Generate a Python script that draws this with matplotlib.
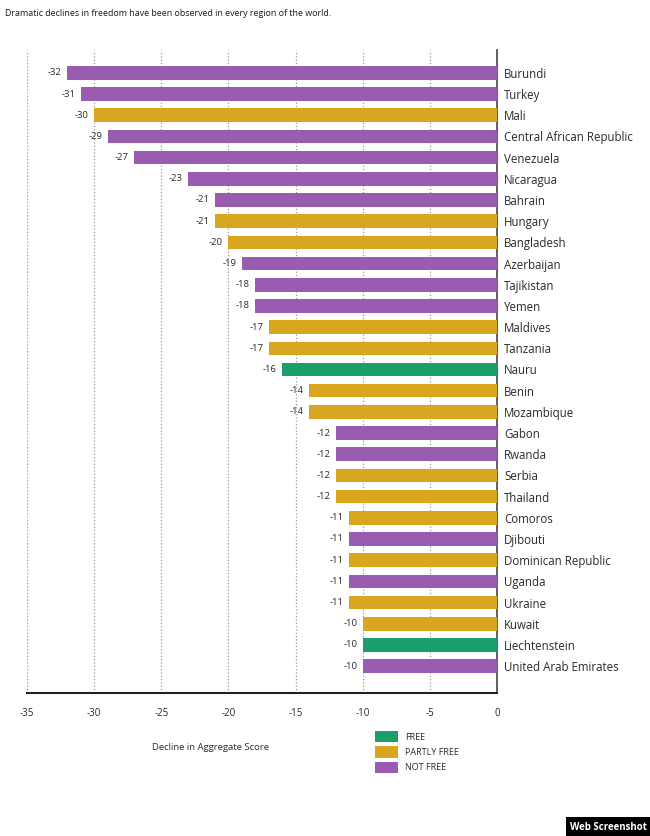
import matplotlib
matplotlib.use('Agg')
import matplotlib.pyplot as plt
from matplotlib.patches import Patch

plt.rcParams['font.family'] = ['Open Sans', 'DejaVu Sans']

countries = ['Burundi', 'Turkey', 'Mali', 'Central African Republic', 'Venezuela',
             'Nicaragua', 'Bahrain', 'Hungary', 'Bangladesh', 'Azerbaijan',
             'Tajikistan', 'Yemen', 'Maldives', 'Tanzania', 'Nauru', 'Benin',
             'Mozambique', 'Gabon', 'Rwanda', 'Serbia', 'Thailand', 'Comoros',
             'Djibouti', 'Dominican Republic', 'Uganda', 'Ukraine', 'Kuwait',
             'Liechtenstein', 'United Arab Emirates']
declines = [-32, -31, -30, -29, -27, -23, -21, -21, -20, -19, -18, -18, -17, -17,
            -16, -14, -14, -12, -12, -12, -12, -11, -11, -11, -11, -11, -10, -10, -10]
status = ['NF', 'NF', 'PF', 'NF', 'NF', 'NF', 'NF', 'PF', 'PF', 'NF', 'NF', 'NF',
          'PF', 'PF', 'F', 'PF', 'PF', 'NF', 'NF', 'PF', 'PF', 'PF', 'NF', 'PF',
          'NF', 'PF', 'PF', 'F', 'NF']
xticks = [-35, -30, -25, -20, -15, -10, -5, 0]

status_colors = {'F': '#1a9e6c', 'PF': '#d9a620', 'NF': '#9a5cb0'}
status_names = {'F': 'FREE', 'PF': 'PARTLY FREE', 'NF': 'NOT FREE'}
text_col = '#2a2a2a'

fig = plt.figure(figsize=(6.5, 8.36), dpi=100)
ax = fig.add_axes([27/650, 1 - 693/836, 470/650, 643/836])

ypos = list(range(len(countries)))
ax.barh(ypos, declines, height=0.64, color=[status_colors[s] for s in status], zorder=3)

for y, v in zip(ypos, declines):
    ax.annotate(str(v), xy=(v, y), xytext=(-4, 0), textcoords='offset points',
                ha='right', va='center', fontsize=6.8, color=text_col)

ax.set_xlim(-35, 0)
ax.set_ylim(29.27, -1.08)
ax.set_xticks(xticks)
ax.set_xticklabels([str(t) for t in xticks], fontsize=7, color=text_col)
ax.tick_params(axis='x', length=0, pad=11)

ax.yaxis.tick_right()
ax.set_yticks(ypos)
ax.set_yticklabels(countries, fontsize=8.3, color=text_col)
ax.tick_params(axis='y', length=0, pad=5)

ax.grid(axis='x', linestyle=':', color='#999999', linewidth=0.9, zorder=0)
ax.grid(axis='y', visible=False)

for side in ['top', 'left']:
    ax.spines[side].set_visible(False)
ax.spines['right'].set_color('#444444')
ax.spines['right'].set_linewidth(1.2)
ax.spines['bottom'].set_color('#222222')
ax.spines['bottom'].set_linewidth(1.5)

fig.text(210/650, 1 - 748/836, 'Decline in Aggregate Score', ha='center', va='center',
         fontsize=6.8, color=text_col)
fig.text(5/650, 1 - 14/836, 'Dramatic declines in freedom have been observed in every region of the world.',
         ha='left', va='center', fontsize=6.4, color='#1a1a1a')

handles = [Patch(facecolor=status_colors[k], label=status_names[k]) for k in ['F', 'PF', 'NF']]
leg = fig.legend(handles=handles, loc='upper left', bbox_to_anchor=(375/650, 1 - 731/836),
                 frameon=False, fontsize=6.5, handlelength=2.6, handleheight=1.55,
                 labelspacing=0.45, handletextpad=0.75, borderpad=0, borderaxespad=0)
for t in leg.get_texts():
    t.set_color(text_col)

fig.text(0.995, 0.004, 'Web Screenshot', ha='right', va='bottom', fontsize=7,
         fontweight='bold', color='white',
         bbox=dict(facecolor='black', edgecolor='none', boxstyle='square,pad=0.45'))

fig.savefig('out.png', dpi=100)
